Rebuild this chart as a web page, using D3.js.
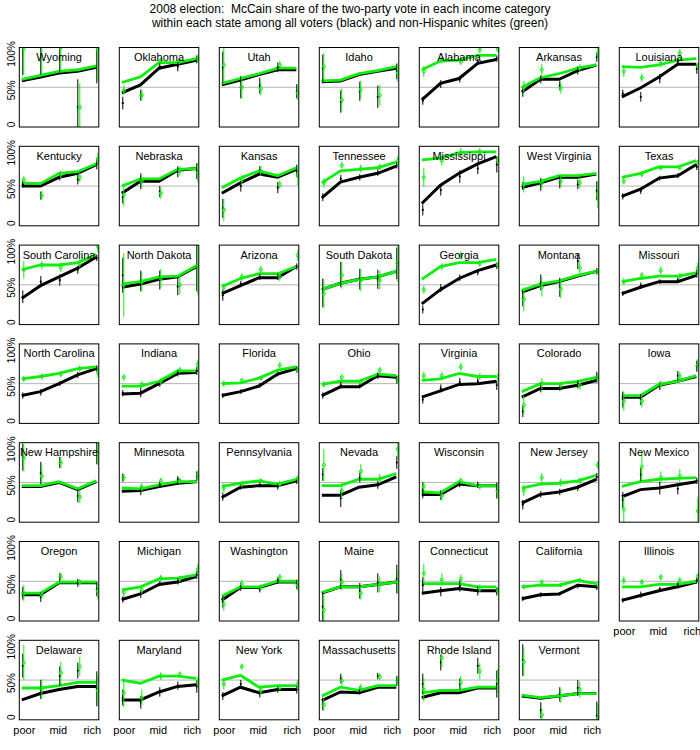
<!DOCTYPE html>
<html>
<head>
<meta charset="utf-8">
<script src="https://cdn.jsdelivr.net/npm/d3@7"></script>
<style>
  body { margin: 0; background: #fff; }
  text { font-family: "Liberation Sans", Arial, sans-serif; }
</style>
</head>
<body>
<div id="chart"></div>
<script>
// income categories, 1 = poor ... 5 = rich
const incomes = [1, 2, 3, 4, 5];
const incomeTicks = [1, 3, 5];
const incomeLabels = ["poor", "mid", "rich"];
const yTicks = [0, 0.5, 1];
const yTickLabels = ["0", "50%", "100%"];

const states = ["Wyoming","Oklahoma","Utah","Idaho","Alabama","Arkansas","Louisiana",
  "Kentucky","Nebraska","Kansas","Tennessee","Mississippi","West Virginia","Texas",
  "South Carolina","North Dakota","Arizona","South Dakota","Georgia","Montana","Missouri",
  "North Carolina","Indiana","Florida","Ohio","Virginia","Colorado","Iowa",
  "New Hampshire","Minnesota","Pennsylvania","Nevada","Wisconsin","New Jersey","New Mexico",
  "Oregon","Michigan","Washington","Maine","Connecticut","California","Illinois",
  "Delaware","Maryland","New York","Massachusetts","Rhode Island","Vermont"];

// fitted lines, all voters (black)
const blackFit = [
  [0.58,0.63,0.68,0.70,0.75],[0.43,0.53,0.74,0.79,0.84],[0.53,0.59,0.66,0.72,0.72],[0.57,0.58,0.66,0.70,0.74],
  [0.34,0.55,0.61,0.80,0.85],[0.44,0.60,0.60,0.71,0.78],[0.38,0.49,0.63,0.79,0.79],
  [0.50,0.50,0.61,0.66,0.77],[0.41,0.56,0.56,0.70,0.72],[0.41,0.54,0.65,0.61,0.71],[0.35,0.55,0.61,0.66,0.75],
  [0.28,0.51,0.66,0.78,0.87],[0.48,0.54,0.61,0.61,0.65],[0.37,0.46,0.60,0.63,0.77],
  [0.33,0.49,0.60,0.71,0.85],[0.47,0.51,0.57,0.60,0.73],[0.39,0.49,0.59,0.59,0.73],[0.44,0.52,0.57,0.60,0.67],
  [0.26,0.44,0.58,0.68,0.75],[0.41,0.49,0.54,0.61,0.67],[0.39,0.47,0.54,0.54,0.62],
  [0.35,0.40,0.50,0.61,0.69],[0.37,0.38,0.50,0.63,0.64],[0.35,0.40,0.47,0.62,0.69],[0.35,0.46,0.46,0.60,0.58],
  [0.33,0.41,0.49,0.50,0.53],[0.33,0.44,0.44,0.48,0.54],[0.33,0.33,0.48,0.53,0.59],
  [0.45,0.45,0.50,0.41,0.51],[0.39,0.40,0.45,0.49,0.51],[0.31,0.44,0.46,0.46,0.52],[0.34,0.34,0.44,0.47,0.57],
  [0.35,0.35,0.48,0.46,0.46],[0.24,0.35,0.38,0.44,0.54],[0.32,0.41,0.43,0.47,0.51],
  [0.33,0.33,0.48,0.48,0.48],[0.27,0.34,0.46,0.49,0.56],[0.26,0.42,0.42,0.49,0.49],[0.35,0.43,0.43,0.46,0.49],
  [0.35,0.38,0.41,0.38,0.38],[0.28,0.33,0.34,0.45,0.43],[0.26,0.32,0.38,0.43,0.49],
  [0.25,0.33,0.38,0.42,0.42],[0.25,0.25,0.35,0.42,0.44],[0.30,0.41,0.34,0.38,0.38],[0.24,0.35,0.34,0.41,0.41],
  [0.28,0.34,0.34,0.40,0.40],[0.30,0.27,0.30,0.33,0.33]
];

// fitted lines, non-Hispanic whites (green)
const greenFit = [
  [0.60,0.65,0.70,0.72,0.77],[0.56,0.63,0.81,0.81,0.86],[0.55,0.61,0.67,0.74,0.74],[0.58,0.59,0.67,0.71,0.76],
  [0.72,0.83,0.84,0.90,0.90],[0.50,0.62,0.67,0.74,0.78],[0.76,0.75,0.78,0.84,0.86],
  [0.54,0.53,0.66,0.68,0.78],[0.50,0.59,0.59,0.71,0.72],[0.48,0.60,0.69,0.63,0.73],[0.54,0.69,0.71,0.73,0.80],
  [0.83,0.85,0.92,0.93,0.93],[0.52,0.56,0.63,0.63,0.66],[0.61,0.66,0.74,0.74,0.82],
  [0.69,0.75,0.75,0.78,0.88],[0.51,0.54,0.60,0.61,0.74],[0.48,0.58,0.64,0.64,0.73],[0.44,0.52,0.57,0.60,0.67],
  [0.57,0.73,0.78,0.78,0.82],[0.43,0.51,0.55,0.62,0.67],[0.54,0.58,0.61,0.61,0.65],
  [0.56,0.59,0.63,0.69,0.71],[0.47,0.47,0.53,0.66,0.66],[0.50,0.51,0.57,0.67,0.71],[0.49,0.53,0.53,0.62,0.60],
  [0.54,0.56,0.63,0.59,0.59],[0.40,0.50,0.50,0.53,0.58],[0.35,0.35,0.49,0.53,0.60],
  [0.46,0.46,0.51,0.42,0.52],[0.43,0.42,0.47,0.51,0.51],[0.45,0.49,0.52,0.48,0.54],[0.46,0.46,0.54,0.54,0.61],
  [0.38,0.37,0.51,0.46,0.46],[0.43,0.48,0.49,0.52,0.59],[0.45,0.51,0.54,0.55,0.56],
  [0.35,0.35,0.49,0.49,0.49],[0.39,0.43,0.53,0.54,0.58],[0.31,0.43,0.43,0.50,0.50],[0.36,0.43,0.43,0.46,0.49],
  [0.47,0.47,0.47,0.43,0.43],[0.43,0.45,0.45,0.51,0.47],[0.43,0.43,0.46,0.46,0.50],
  [0.40,0.40,0.43,0.47,0.47],[0.50,0.46,0.55,0.55,0.52],[0.50,0.56,0.41,0.43,0.43],[0.30,0.41,0.37,0.43,0.43],
  [0.34,0.37,0.37,0.41,0.41],[0.31,0.28,0.30,0.33,0.33]
];

// raw estimates and +/- errors, all voters
const blackRaw = [
  [1.00,1.02,1.00,0.25,1.00],[0.30,0.40,0.76,0.76,0.85],[0.75,0.50,0.52,0.75,0.45],[0.74,0.32,0.45,0.38,0.70],
  [0.33,0.54,0.60,0.82,0.86],[0.44,0.60,0.52,0.71,0.88],[0.42,0.38,0.61,0.82,0.73],
  [0.52,0.38,0.62,0.58,0.78],[0.36,0.56,0.43,0.68,0.69],[0.22,0.50,0.70,0.48,0.69],[0.36,0.59,0.61,0.67,0.76],
  [0.20,0.45,0.62,0.72,0.77],[0.50,0.52,0.55,0.52,0.44],[0.37,0.44,0.60,0.63,0.74],
  [0.35,0.54,0.56,0.69,0.84],[0.62,0.55,0.56,0.48,0.72],[0.37,0.51,0.60,0.60,0.73],[0.40,0.63,0.57,0.57,0.77],
  [0.19,0.46,0.59,0.66,0.74],[0.33,0.53,0.47,0.80,0.67],[0.39,0.49,0.54,0.56,0.64],
  [0.35,0.39,0.50,0.61,0.69],[0.38,0.39,0.50,0.63,0.66],[0.35,0.40,0.48,0.62,0.68],[0.35,0.48,0.47,0.60,0.55],
  [0.30,0.44,0.52,0.53,0.48],[0.15,0.45,0.45,0.49,0.58],[0.30,0.30,0.47,0.60,0.72],
  [0.82,0.62,0.75,0.33,0.88],[0.56,0.40,0.47,0.54,0.58],[0.32,0.45,0.47,0.45,0.52],[0.60,0.30,0.56,0.47,0.75],
  [0.40,0.34,0.48,0.47,0.40],[0.22,0.35,0.38,0.43,0.57],[0.28,0.60,0.43,0.42,0.52],
  [0.35,0.30,0.55,0.48,0.40],[0.27,0.34,0.47,0.50,0.58],[0.24,0.43,0.40,0.51,0.46],[0.18,0.52,0.38,0.48,0.53],
  [0.45,0.37,0.44,0.38,0.37],[0.28,0.33,0.34,0.44,0.42],[0.26,0.33,0.40,0.45,0.51],
  [0.68,0.38,0.55,0.62,0.39],[0.28,0.22,0.35,0.43,0.42],[0.30,0.45,0.33,0.38,0.38],[0.20,0.52,0.37,0.55,0.49],
  [0.45,0.72,0.45,0.68,0.45],[0.75,0.12,0.32,0.40,0.05]
];
const blackErr = [
  [0.35,0.36,0.33,0.35,0.45],[0.08,0.07,0.04,0.06,0.05],[0.20,0.14,0.10,0.06,0.09],[0.17,0.14,0.12,0.14,0.10],
  [0.05,0.05,0.04,0.04,0.04],[0.06,0.05,0.06,0.05,0.06],[0.05,0.06,0.06,0.04,0.06],
  [0.04,0.05,0.05,0.06,0.07],[0.08,0.10,0.07,0.07,0.10],[0.12,0.07,0.05,0.07,0.08],[0.05,0.05,0.04,0.04,0.04],
  [0.07,0.07,0.08,0.07,0.10],[0.05,0.08,0.08,0.06,0.12],[0.04,0.04,0.03,0.03,0.04],
  [0.08,0.07,0.07,0.05,0.04],[0.22,0.13,0.12,0.11,0.30],[0.07,0.04,0.04,0.04,0.04],[0.18,0.16,0.13,0.12,0.20],
  [0.05,0.05,0.04,0.04,0.04],[0.10,0.10,0.12,0.10,0.04],[0.03,0.04,0.03,0.03,0.05],
  [0.04,0.04,0.03,0.04,0.04],[0.04,0.06,0.04,0.04,0.05],[0.03,0.03,0.03,0.03,0.04],[0.04,0.04,0.03,0.04,0.05],
  [0.05,0.05,0.05,0.04,0.06],[0.07,0.06,0.04,0.05,0.07],[0.10,0.07,0.05,0.06,0.07],
  [0.17,0.14,0.07,0.08,0.15],[0.05,0.06,0.04,0.04,0.06],[0.05,0.04,0.03,0.04,0.04],[0.08,0.11,0.06,0.05,0.08],
  [0.10,0.06,0.04,0.04,0.10],[0.06,0.04,0.04,0.04,0.05],[0.10,0.08,0.08,0.07,0.04],
  [0.08,0.06,0.05,0.05,0.09],[0.04,0.05,0.03,0.04,0.05],[0.07,0.05,0.04,0.04,0.06],[0.18,0.12,0.10,0.12,0.18],
  [0.10,0.06,0.07,0.06,0.05],[0.03,0.03,0.02,0.03,0.03],[0.03,0.04,0.03,0.04,0.04],
  [0.15,0.12,0.12,0.10,0.22],[0.10,0.08,0.06,0.05,0.08],[0.05,0.05,0.05,0.04,0.05],[0.08,0.06,0.05,0.04,0.06],
  [0.13,0.10,0.07,0.10,0.17],[0.20,0.10,0.09,0.10,0.18]
];

// raw estimates and +/- errors, non-Hispanic whites
const greenRaw = [
  [0.99,1.02,1.00,0.25,0.98],[0.46,0.40,0.84,0.83,0.86],[0.78,0.50,0.48,0.78,0.43],[0.76,0.34,0.47,0.40,0.68],
  [0.70,0.84,0.82,0.97,0.98],[0.50,0.72,0.49,0.74,0.93],[0.70,0.62,0.80,0.93,0.77],
  [0.58,0.38,0.65,0.61,0.84],[0.39,0.56,0.41,0.69,0.67],[0.20,0.58,0.69,0.52,0.63],[0.54,0.76,0.72,0.74,0.82],
  [0.61,0.82,0.92,0.93,0.83],[0.52,0.54,0.56,0.54,0.39],[0.56,0.65,0.73,0.73,0.80],
  [0.69,0.75,0.72,0.77,0.98],[0.50,0.54,0.58,0.50,0.73],[0.47,0.60,0.69,0.60,0.87],[0.39,0.62,0.56,0.56,0.77],
  [0.44,0.73,0.87,0.77,0.75],[0.32,0.47,0.45,0.71,0.67],[0.54,0.62,0.68,0.61,0.71],
  [0.56,0.59,0.62,0.69,0.64],[0.58,0.49,0.53,0.67,0.74],[0.50,0.54,0.57,0.73,0.67],[0.49,0.58,0.52,0.67,0.55],
  [0.60,0.60,0.71,0.59,0.58],[0.23,0.50,0.48,0.48,0.58],[0.28,0.28,0.49,0.59,0.73],
  [0.81,0.58,0.75,0.32,0.87],[0.56,0.44,0.52,0.52,0.59],[0.43,0.48,0.52,0.48,0.55],[0.72,0.40,0.64,0.55,0.92],
  [0.45,0.33,0.52,0.45,0.39],[0.40,0.56,0.50,0.52,0.72],[0.16,0.70,0.56,0.58,0.14],
  [0.35,0.33,0.56,0.49,0.38],[0.36,0.39,0.54,0.53,0.65],[0.21,0.47,0.42,0.55,0.45],[0.14,0.49,0.35,0.46,0.49],
  [0.60,0.52,0.53,0.41,0.38],[0.43,0.49,0.45,0.51,0.47],[0.51,0.49,0.55,0.51,0.56],
  [0.72,0.39,0.59,0.67,0.37],[0.34,0.28,0.55,0.57,0.48],[0.45,0.67,0.37,0.41,0.45],[0.19,0.49,0.40,0.54,0.49],
  [0.38,0.78,0.47,0.61,0.49],[0.73,0.06,0.30,0.38,0.02]
];
const greenErr = [
  [0.33,0.37,0.32,0.30,0.40],[0.06,0.07,0.03,0.04,0.05],[0.22,0.14,0.08,0.05,0.09],[0.17,0.14,0.11,0.13,0.11],
  [0.07,0.04,0.04,0.04,0.04],[0.08,0.07,0.07,0.05,0.07],[0.07,0.05,0.05,0.05,0.04],
  [0.05,0.06,0.05,0.06,0.08],[0.14,0.08,0.07,0.06,0.12],[0.14,0.06,0.06,0.05,0.12],[0.06,0.04,0.05,0.04,0.06],
  [0.12,0.06,0.06,0.05,0.05],[0.10,0.06,0.07,0.07,0.17],[0.04,0.04,0.03,0.03,0.03],
  [0.11,0.05,0.06,0.05,0.07],[0.40,0.12,0.12,0.12,0.35],[0.05,0.05,0.05,0.05,0.07],[0.18,0.17,0.14,0.12,0.23],
  [0.05,0.04,0.05,0.04,0.04],[0.15,0.12,0.12,0.10,0.04],[0.04,0.04,0.05,0.04,0.07],
  [0.04,0.04,0.04,0.04,0.06],[0.04,0.04,0.04,0.04,0.06],[0.04,0.03,0.03,0.04,0.04],[0.04,0.04,0.03,0.04,0.05],
  [0.05,0.05,0.05,0.04,0.05],[0.12,0.07,0.04,0.06,0.05],[0.12,0.08,0.05,0.06,0.08],
  [0.17,0.14,0.07,0.08,0.15],[0.05,0.05,0.04,0.04,0.06],[0.06,0.04,0.03,0.04,0.04],[0.20,0.10,0.09,0.06,0.13],
  [0.06,0.06,0.04,0.04,0.10],[0.07,0.06,0.05,0.04,0.05],[0.17,0.18,0.08,0.09,0.17],
  [0.10,0.05,0.05,0.04,0.10],[0.05,0.05,0.04,0.04,0.07],[0.08,0.05,0.04,0.04,0.07],[0.18,0.10,0.08,0.10,0.15],
  [0.12,0.08,0.05,0.05,0.05],[0.03,0.03,0.02,0.03,0.03],[0.05,0.04,0.04,0.04,0.04],
  [0.22,0.12,0.14,0.12,0.20],[0.18,0.10,0.05,0.04,0.06],[0.07,0.04,0.05,0.04,0.05],[0.08,0.06,0.05,0.05,0.06],
  [0.15,0.12,0.08,0.10,0.15],[0.18,0.09,0.09,0.10,0.18]
];

const green = "#10ee10";
const W = 79.5, H = 79.5;
const colX = d3.range(7).map(c => 19.3 + c * 100);
const rowY = d3.range(7).map(r => 47.5 + r * 98.8);

const svg = d3.select("#chart").append("svg")
  .attr("width", 700)
  .attr("height", 750);

svg.append("defs").append("clipPath").attr("id", "box")
  .append("rect").attr("width", W).attr("height", H);

// title
svg.append("text").attr("x", 350).attr("y", 13).attr("text-anchor", "middle")
  .attr("font-size", "12px").style("white-space", "pre")
  .text("2008 election:  McCain share of the two-party vote in each income category");
svg.append("text").attr("x", 350).attr("y", 27).attr("text-anchor", "middle")
  .attr("font-size", "12px")
  .text("within each state among all voters (black) and non-Hispanic whites (green)");

const x = d3.scaleLinear().domain([1, 5]).range([2.5, W - 2.5]);
const y = d3.scaleLinear().domain([0, 1]).range([H, 0]);
const xLab = d3.scaleLinear().domain([1, 5]).range([4.5, 72.5]); // labels sit a bit inside
const line = d3.line().x((d, i) => x(incomes[i])).y(d => y(d));

function errorBars(g, raw, err, color, dx, circles) {
  g.selectAll(null).data(raw).enter().append("line")
    .attr("x1", (d, i) => Math.round(x(incomes[i]) + dx) + 0.5)
    .attr("x2", (d, i) => Math.round(x(incomes[i]) + dx) + 0.5)
    .attr("y1", (d, i) => y(d - err[i]))
    .attr("y2", (d, i) => y(d + err[i]))
    .attr("stroke", color).attr("stroke-width", 1);
  if (circles) {
    g.selectAll(null).data(raw).enter().append("circle")
      .attr("cx", (d, i) => Math.round(x(incomes[i]) + dx) + 0.5)
      .attr("cy", d => y(d))
      .attr("r", 1.6)
      .attr("fill", "none").attr("stroke", color).attr("stroke-width", 1);
  } else {
    g.selectAll(null).data(raw).enter().append("circle")
      .attr("cx", (d, i) => Math.round(x(incomes[i]) + dx) + 0.5)
      .attr("cy", d => y(d))
      .attr("r", 1.1)
      .attr("fill", color);
  }
}

states.forEach((name, i) => {
  const r = Math.floor(i / 7), c = i % 7;
  const g = svg.append("g").attr("transform", `translate(${colX[c]},${rowY[r]})`);
  const inner = g.append("g").attr("clip-path", "url(#box)");

  inner.append("line")
    .attr("x1", 0).attr("x2", W).attr("y1", y(0.5)).attr("y2", y(0.5))
    .attr("stroke", "#b4b4b4").attr("stroke-width", 1);

  inner.append("path").datum(blackFit[i]).attr("d", line)
    .attr("fill", "none").attr("stroke", "black").attr("stroke-width", 3);
  inner.append("path").datum(greenFit[i]).attr("d", line)
    .attr("fill", "none").attr("stroke", green).attr("stroke-width", 2.8);

  errorBars(inner, blackRaw[i], blackErr[i], "black", 0, false);
  errorBars(inner, greenRaw[i], greenErr[i], green, 1.2, true);

  g.append("rect").attr("width", W).attr("height", H)
    .attr("fill", "none").attr("stroke", "black").attr("stroke-width", 1);

  g.append("text").attr("x", W / 2).attr("y", 13.5).attr("text-anchor", "middle")
    .attr("font-size", "11px").text(name);

  // income labels under the last panel of each column
  const last = (r === 6) || (r === 5 && c === 6);
  if (last) {
    const ax = g.append("g").attr("transform", `translate(0,${H})`)
      .call(d3.axisBottom(xLab).tickValues(incomeTicks)
        .tickFormat((d, k) => incomeLabels[k]).tickSize(0).tickPadding(6));
    ax.select(".domain").remove();
    ax.selectAll("text").attr("font-size", "11px")
      .attr("font-family", "'Liberation Sans', Arial, sans-serif").attr("fill", "black");
  }

  // y labels on the first column
  if (c === 0) {
    const yOff = [-2.5, 3, 6.5];
    yTicks.forEach((t, k) => {
      g.append("text")
        .attr("transform", `translate(-4.5,${y(t) + yOff[k]}) rotate(-90)`)
        .attr("text-anchor", "middle").attr("font-size", "10px")
        .text(yTickLabels[k]);
    });
  }
});
</script>
</body>
</html>
